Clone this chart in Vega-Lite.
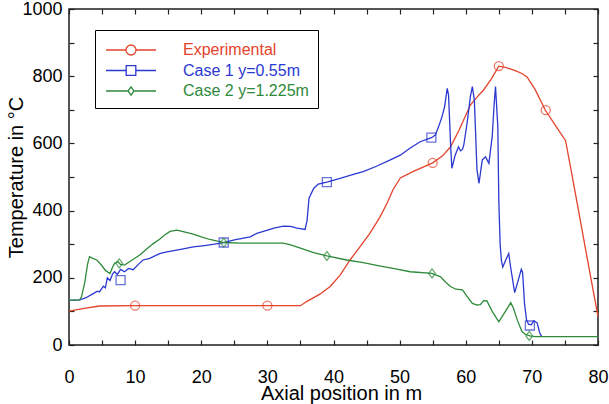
{
  "$schema": "https://vega.github.io/schema/vega-lite/v6.json",
  "width": 529,
  "height": 336,
  "autosize": {"type": "none"},
  "padding": {"left": 69, "top": 9, "right": 11, "bottom": 59},
  "background": "white",
  "datasets": {
    "curves": [
      {"series": "Experimental", "pos": 0, "temp": 101},
      {"series": "Experimental", "pos": 2.3, "temp": 109},
      {"series": "Experimental", "pos": 4.6, "temp": 116},
      {"series": "Experimental", "pos": 10, "temp": 117},
      {"series": "Experimental", "pos": 20, "temp": 117},
      {"series": "Experimental", "pos": 30, "temp": 117},
      {"series": "Experimental", "pos": 35, "temp": 117},
      {"series": "Experimental", "pos": 36, "temp": 130},
      {"series": "Experimental", "pos": 38, "temp": 152},
      {"series": "Experimental", "pos": 39.5, "temp": 174},
      {"series": "Experimental", "pos": 41, "temp": 208},
      {"series": "Experimental", "pos": 42.5, "temp": 253},
      {"series": "Experimental", "pos": 44, "temp": 292},
      {"series": "Experimental", "pos": 45.5, "temp": 332},
      {"series": "Experimental", "pos": 47, "temp": 380},
      {"series": "Experimental", "pos": 48.1, "temp": 422},
      {"series": "Experimental", "pos": 49, "temp": 462},
      {"series": "Experimental", "pos": 50.1, "temp": 497},
      {"series": "Experimental", "pos": 52, "temp": 516},
      {"series": "Experimental", "pos": 55, "temp": 542},
      {"series": "Experimental", "pos": 56.5, "temp": 563},
      {"series": "Experimental", "pos": 57.7, "temp": 590},
      {"series": "Experimental", "pos": 59, "temp": 640},
      {"series": "Experimental", "pos": 60.7, "temp": 714},
      {"series": "Experimental", "pos": 61.8, "temp": 740},
      {"series": "Experimental", "pos": 62.7, "temp": 759},
      {"series": "Experimental", "pos": 63.8, "temp": 790},
      {"series": "Experimental", "pos": 65, "temp": 830},
      {"series": "Experimental", "pos": 66, "temp": 826},
      {"series": "Experimental", "pos": 67.3, "temp": 818},
      {"series": "Experimental", "pos": 68.5, "temp": 808},
      {"series": "Experimental", "pos": 69.3, "temp": 797},
      {"series": "Experimental", "pos": 70.5, "temp": 760},
      {"series": "Experimental", "pos": 72, "temp": 700},
      {"series": "Experimental", "pos": 73.5, "temp": 655},
      {"series": "Experimental", "pos": 75.1, "temp": 608},
      {"series": "Experimental", "pos": 76, "temp": 513},
      {"series": "Experimental", "pos": 77, "temp": 406},
      {"series": "Experimental", "pos": 78, "temp": 298},
      {"series": "Experimental", "pos": 79, "temp": 191},
      {"series": "Experimental", "pos": 80, "temp": 85},

      {"series": "Case 1 y=0.55m", "pos": 0, "temp": 133},
      {"series": "Case 1 y=0.55m", "pos": 1.6, "temp": 134},
      {"series": "Case 1 y=0.55m", "pos": 2.5, "temp": 140},
      {"series": "Case 1 y=0.55m", "pos": 3.6, "temp": 152},
      {"series": "Case 1 y=0.55m", "pos": 4.3, "temp": 160},
      {"series": "Case 1 y=0.55m", "pos": 4.6, "temp": 158},
      {"series": "Case 1 y=0.55m", "pos": 5.2, "temp": 175},
      {"series": "Case 1 y=0.55m", "pos": 5.5, "temp": 170},
      {"series": "Case 1 y=0.55m", "pos": 5.8, "temp": 200},
      {"series": "Case 1 y=0.55m", "pos": 6.2, "temp": 192},
      {"series": "Case 1 y=0.55m", "pos": 6.6, "temp": 212},
      {"series": "Case 1 y=0.55m", "pos": 6.9, "temp": 218},
      {"series": "Case 1 y=0.55m", "pos": 7.3, "temp": 210},
      {"series": "Case 1 y=0.55m", "pos": 7.8, "temp": 225},
      {"series": "Case 1 y=0.55m", "pos": 8.4, "temp": 218},
      {"series": "Case 1 y=0.55m", "pos": 9, "temp": 228},
      {"series": "Case 1 y=0.55m", "pos": 9.7, "temp": 224},
      {"series": "Case 1 y=0.55m", "pos": 10.5, "temp": 240},
      {"series": "Case 1 y=0.55m", "pos": 11.2, "temp": 253},
      {"series": "Case 1 y=0.55m", "pos": 12.2, "temp": 258},
      {"series": "Case 1 y=0.55m", "pos": 13.7, "temp": 272},
      {"series": "Case 1 y=0.55m", "pos": 14.8, "temp": 277},
      {"series": "Case 1 y=0.55m", "pos": 16.5, "temp": 283},
      {"series": "Case 1 y=0.55m", "pos": 18.8, "temp": 292},
      {"series": "Case 1 y=0.55m", "pos": 20.5, "temp": 296},
      {"series": "Case 1 y=0.55m", "pos": 22, "temp": 300},
      {"series": "Case 1 y=0.55m", "pos": 23.4, "temp": 305},
      {"series": "Case 1 y=0.55m", "pos": 25, "temp": 313},
      {"series": "Case 1 y=0.55m", "pos": 27.4, "temp": 322},
      {"series": "Case 1 y=0.55m", "pos": 28.4, "temp": 332},
      {"series": "Case 1 y=0.55m", "pos": 29.9, "temp": 341},
      {"series": "Case 1 y=0.55m", "pos": 31, "temp": 348},
      {"series": "Case 1 y=0.55m", "pos": 32.4, "temp": 354},
      {"series": "Case 1 y=0.55m", "pos": 33.5, "temp": 353},
      {"series": "Case 1 y=0.55m", "pos": 34.5, "temp": 348},
      {"series": "Case 1 y=0.55m", "pos": 35.7, "temp": 344},
      {"series": "Case 1 y=0.55m", "pos": 36, "temp": 370},
      {"series": "Case 1 y=0.55m", "pos": 36.3, "temp": 437},
      {"series": "Case 1 y=0.55m", "pos": 37, "temp": 466},
      {"series": "Case 1 y=0.55m", "pos": 37.7, "temp": 479},
      {"series": "Case 1 y=0.55m", "pos": 39, "temp": 485},
      {"series": "Case 1 y=0.55m", "pos": 41, "temp": 496},
      {"series": "Case 1 y=0.55m", "pos": 43, "temp": 508},
      {"series": "Case 1 y=0.55m", "pos": 44.5, "temp": 516},
      {"series": "Case 1 y=0.55m", "pos": 46.5, "temp": 532},
      {"series": "Case 1 y=0.55m", "pos": 48.6, "temp": 551},
      {"series": "Case 1 y=0.55m", "pos": 50.1, "temp": 565},
      {"series": "Case 1 y=0.55m", "pos": 51.5, "temp": 585},
      {"series": "Case 1 y=0.55m", "pos": 53.1, "temp": 605},
      {"series": "Case 1 y=0.55m", "pos": 54.1, "temp": 612},
      {"series": "Case 1 y=0.55m", "pos": 54.8, "temp": 617},
      {"series": "Case 1 y=0.55m", "pos": 55.4, "temp": 625},
      {"series": "Case 1 y=0.55m", "pos": 55.9, "temp": 650},
      {"series": "Case 1 y=0.55m", "pos": 56.4, "temp": 679},
      {"series": "Case 1 y=0.55m", "pos": 56.8, "temp": 709},
      {"series": "Case 1 y=0.55m", "pos": 57.2, "temp": 764},
      {"series": "Case 1 y=0.55m", "pos": 57.4, "temp": 744},
      {"series": "Case 1 y=0.55m", "pos": 57.7, "temp": 600},
      {"series": "Case 1 y=0.55m", "pos": 57.9, "temp": 526},
      {"series": "Case 1 y=0.55m", "pos": 58.4, "temp": 565},
      {"series": "Case 1 y=0.55m", "pos": 58.9, "temp": 590},
      {"series": "Case 1 y=0.55m", "pos": 59.2, "temp": 578},
      {"series": "Case 1 y=0.55m", "pos": 59.5, "temp": 582},
      {"series": "Case 1 y=0.55m", "pos": 59.7, "temp": 595},
      {"series": "Case 1 y=0.55m", "pos": 60.2, "temp": 660},
      {"series": "Case 1 y=0.55m", "pos": 60.7, "temp": 739},
      {"series": "Case 1 y=0.55m", "pos": 61, "temp": 769},
      {"series": "Case 1 y=0.55m", "pos": 61.3, "temp": 729},
      {"series": "Case 1 y=0.55m", "pos": 61.7, "temp": 521},
      {"series": "Case 1 y=0.55m", "pos": 62, "temp": 481},
      {"series": "Case 1 y=0.55m", "pos": 62.5, "temp": 551},
      {"series": "Case 1 y=0.55m", "pos": 63, "temp": 560},
      {"series": "Case 1 y=0.55m", "pos": 63.5, "temp": 541},
      {"series": "Case 1 y=0.55m", "pos": 64, "temp": 620},
      {"series": "Case 1 y=0.55m", "pos": 64.3, "temp": 719},
      {"series": "Case 1 y=0.55m", "pos": 64.5, "temp": 769},
      {"series": "Case 1 y=0.55m", "pos": 64.85, "temp": 650},
      {"series": "Case 1 y=0.55m", "pos": 65, "temp": 430},
      {"series": "Case 1 y=0.55m", "pos": 65.2, "temp": 300},
      {"series": "Case 1 y=0.55m", "pos": 65.4, "temp": 250},
      {"series": "Case 1 y=0.55m", "pos": 65.6, "temp": 232},
      {"series": "Case 1 y=0.55m", "pos": 66.1, "temp": 255},
      {"series": "Case 1 y=0.55m", "pos": 66.5, "temp": 272},
      {"series": "Case 1 y=0.55m", "pos": 66.8, "temp": 230},
      {"series": "Case 1 y=0.55m", "pos": 67.4, "temp": 156},
      {"series": "Case 1 y=0.55m", "pos": 67.9, "temp": 190},
      {"series": "Case 1 y=0.55m", "pos": 68.4, "temp": 225},
      {"series": "Case 1 y=0.55m", "pos": 68.6, "temp": 215},
      {"series": "Case 1 y=0.55m", "pos": 68.9, "temp": 120},
      {"series": "Case 1 y=0.55m", "pos": 69.2, "temp": 74},
      {"series": "Case 1 y=0.55m", "pos": 69.5, "temp": 62},
      {"series": "Case 1 y=0.55m", "pos": 69.9, "temp": 60},
      {"series": "Case 1 y=0.55m", "pos": 70.3, "temp": 72},
      {"series": "Case 1 y=0.55m", "pos": 70.8, "temp": 66},
      {"series": "Case 1 y=0.55m", "pos": 71.2, "temp": 35},
      {"series": "Case 1 y=0.55m", "pos": 71.5, "temp": 25},

      {"series": "Case 2 y=1.225m", "pos": 0, "temp": 133},
      {"series": "Case 2 y=1.225m", "pos": 1.6, "temp": 134},
      {"series": "Case 2 y=1.225m", "pos": 1.9, "temp": 144},
      {"series": "Case 2 y=1.225m", "pos": 2.4, "temp": 188},
      {"series": "Case 2 y=1.225m", "pos": 2.8, "temp": 240},
      {"series": "Case 2 y=1.225m", "pos": 3.1, "temp": 263},
      {"series": "Case 2 y=1.225m", "pos": 3.6, "temp": 258},
      {"series": "Case 2 y=1.225m", "pos": 4.2, "temp": 253},
      {"series": "Case 2 y=1.225m", "pos": 4.9, "temp": 238},
      {"series": "Case 2 y=1.225m", "pos": 5.5, "temp": 222},
      {"series": "Case 2 y=1.225m", "pos": 6.2, "temp": 213},
      {"series": "Case 2 y=1.225m", "pos": 6.6, "temp": 232},
      {"series": "Case 2 y=1.225m", "pos": 6.9, "temp": 243},
      {"series": "Case 2 y=1.225m", "pos": 7.4, "temp": 248},
      {"series": "Case 2 y=1.225m", "pos": 7.8, "temp": 240},
      {"series": "Case 2 y=1.225m", "pos": 8.4, "temp": 238},
      {"series": "Case 2 y=1.225m", "pos": 9.5, "temp": 252},
      {"series": "Case 2 y=1.225m", "pos": 10.7, "temp": 268},
      {"series": "Case 2 y=1.225m", "pos": 11.7, "temp": 285},
      {"series": "Case 2 y=1.225m", "pos": 12.7, "temp": 301},
      {"series": "Case 2 y=1.225m", "pos": 13.7, "temp": 315},
      {"series": "Case 2 y=1.225m", "pos": 14.5, "temp": 328},
      {"series": "Case 2 y=1.225m", "pos": 15.3, "temp": 338},
      {"series": "Case 2 y=1.225m", "pos": 16.3, "temp": 342},
      {"series": "Case 2 y=1.225m", "pos": 16.8, "temp": 340},
      {"series": "Case 2 y=1.225m", "pos": 18.8, "temp": 330},
      {"series": "Case 2 y=1.225m", "pos": 20, "temp": 322},
      {"series": "Case 2 y=1.225m", "pos": 21.3, "temp": 314},
      {"series": "Case 2 y=1.225m", "pos": 23.4, "temp": 305},
      {"series": "Case 2 y=1.225m", "pos": 25.9, "temp": 303},
      {"series": "Case 2 y=1.225m", "pos": 32.4, "temp": 303},
      {"series": "Case 2 y=1.225m", "pos": 33.5, "temp": 298},
      {"series": "Case 2 y=1.225m", "pos": 35, "temp": 288},
      {"series": "Case 2 y=1.225m", "pos": 37, "temp": 275},
      {"series": "Case 2 y=1.225m", "pos": 39, "temp": 265},
      {"series": "Case 2 y=1.225m", "pos": 42, "temp": 253},
      {"series": "Case 2 y=1.225m", "pos": 44.5, "temp": 245},
      {"series": "Case 2 y=1.225m", "pos": 47.1, "temp": 235},
      {"series": "Case 2 y=1.225m", "pos": 49, "temp": 228},
      {"series": "Case 2 y=1.225m", "pos": 51.6, "temp": 218},
      {"series": "Case 2 y=1.225m", "pos": 54.9, "temp": 213},
      {"series": "Case 2 y=1.225m", "pos": 56.2, "temp": 203},
      {"series": "Case 2 y=1.225m", "pos": 57, "temp": 186},
      {"series": "Case 2 y=1.225m", "pos": 57.7, "temp": 174},
      {"series": "Case 2 y=1.225m", "pos": 58.5, "temp": 166},
      {"series": "Case 2 y=1.225m", "pos": 59.5, "temp": 164},
      {"series": "Case 2 y=1.225m", "pos": 60.2, "temp": 145},
      {"series": "Case 2 y=1.225m", "pos": 61, "temp": 124},
      {"series": "Case 2 y=1.225m", "pos": 61.7, "temp": 119},
      {"series": "Case 2 y=1.225m", "pos": 62.2, "temp": 120},
      {"series": "Case 2 y=1.225m", "pos": 62.7, "temp": 132},
      {"series": "Case 2 y=1.225m", "pos": 63.2, "temp": 131},
      {"series": "Case 2 y=1.225m", "pos": 64, "temp": 100},
      {"series": "Case 2 y=1.225m", "pos": 65, "temp": 69},
      {"series": "Case 2 y=1.225m", "pos": 66, "temp": 100},
      {"series": "Case 2 y=1.225m", "pos": 66.8, "temp": 126},
      {"series": "Case 2 y=1.225m", "pos": 67.2, "temp": 110},
      {"series": "Case 2 y=1.225m", "pos": 67.8, "temp": 74},
      {"series": "Case 2 y=1.225m", "pos": 68.5, "temp": 40},
      {"series": "Case 2 y=1.225m", "pos": 69, "temp": 32},
      {"series": "Case 2 y=1.225m", "pos": 69.7, "temp": 27},
      {"series": "Case 2 y=1.225m", "pos": 70.5, "temp": 25},
      {"series": "Case 2 y=1.225m", "pos": 80, "temp": 25}
    ],
    "markers": [
      {"curve": "Experimental", "pos": 10, "temp": 117},
      {"curve": "Experimental", "pos": 30, "temp": 117},
      {"curve": "Experimental", "pos": 55, "temp": 542},
      {"curve": "Experimental", "pos": 65, "temp": 830},
      {"curve": "Experimental", "pos": 72.1, "temp": 699},
      {"curve": "Case 1 y=0.55m", "pos": 7.8, "temp": 193},
      {"curve": "Case 1 y=0.55m", "pos": 23.4, "temp": 305},
      {"curve": "Case 1 y=0.55m", "pos": 39, "temp": 485},
      {"curve": "Case 1 y=0.55m", "pos": 54.8, "temp": 617},
      {"curve": "Case 1 y=0.55m", "pos": 69.7, "temp": 58},
      {"curve": "Case 2 y=1.225m", "pos": 7.6, "temp": 243},
      {"curve": "Case 2 y=1.225m", "pos": 23.4, "temp": 305},
      {"curve": "Case 2 y=1.225m", "pos": 39, "temp": 265},
      {"curve": "Case 2 y=1.225m", "pos": 54.9, "temp": 213},
      {"curve": "Case 2 y=1.225m", "pos": 69.6, "temp": 27}
    ]
  },
  "layer": [
    {
      "mark": {"type": "rect", "color": "black"},
      "encoding": {
        "x": {"datum": 4.69, "type": "quantitative", "scale": {"domain": [0, 80], "nice": false}, "axis": null},
        "x2": {"datum": 36},
        "y": {"datum": 922, "type": "quantitative", "scale": {"domain": [0, 1000], "nice": false}, "axis": null},
        "y2": {"datum": 691}
      }
    },
    {
      "data": {"name": "curves"},
      "mark": {"type": "line", "strokeWidth": 1.3},
      "encoding": {
        "x": {
          "field": "pos", "type": "quantitative",
          "scale": {"domain": [0, 80], "nice": false},
          "axis": {
            "orient": "bottom",
            "title": "Axial position in m",
            "titleX": 272, "titleY": 38,
            "values": [0, 5, 10, 15, 20, 25, 30, 35, 40, 45, 50, 55, 60, 65, 70, 75, 80],
            "labelExpr": "datum.value % 10 === 0 ? datum.label : ''",
            "tickSize": -5, "labelPadding": 28,
            "labelFlush": false, "labelOverlap": false, "grid": false, "domain": false
          }
        },
        "y": {
          "field": "temp", "type": "quantitative",
          "scale": {"domain": [0, 1000], "nice": false},
          "axis": {
            "orient": "left",
            "title": "Temperature in °C",
            "titleX": -43,
            "format": "d",
            "values": [0, 100, 200, 300, 400, 500, 600, 700, 800, 900, 1000],
            "labelExpr": "datum.value % 200 === 0 ? datum.label : ''",
            "tickSize": -5, "labelPadding": 12,
            "labelFlush": false, "labelOverlap": false, "grid": false, "domain": false
          }
        },
        "color": {
          "field": "series", "type": "nominal",
          "scale": {
            "domain": ["Experimental", "Case 1 y=0.55m", "Case 2 y=1.225m"],
            "range": ["#e4432c", "#2b39d1", "#2e8a3b"]
          },
          "legend": {
            "title": null,
            "orient": "none", "legendX": 26, "legendY": 21,
            "fillColor": "white", "strokeColor": "black",
            "padding": 9, "rowPadding": 1.5,
            "symbolSize": 400, "symbolOffset": 16, "symbolStrokeWidth": 1.3, "symbolFillColor": "transparent",
            "symbolType": {"expr": "datum.value === 'Experimental' ? 'M-2.5,0H-0.5M0.5,0H2.5M-0.5,0A0.5,0.5,0,1,1,0.5,0A0.5,0.5,0,1,1,-0.5,0Z' : datum.value === 'Case 1 y=0.55m' ? 'M-2.5,0H-0.48M0.48,0H2.5M-0.48,-0.48H0.48V0.48H-0.48Z' : 'M-2.5,0H-0.3M0.3,0H2.5M0,-0.42L0.3,0L0,0.42L-0.3,0Z'"},
            "labelColor": {"expr": "datum.value === 'Experimental' ? '#e4432c' : datum.value === 'Case 1 y=0.55m' ? '#2b39d1' : '#2e8a3b'"},
            "labelFont": "Liberation Sans", "labelFontSize": 16, "labelOffset": 41, "labelLimit": 300
          }
        }
      }
    },
    {
      "data": {"name": "markers"},
      "transform": [{"filter": "datum.curve === 'Experimental'"}],
      "mark": {"type": "point", "filled": false, "size": 81, "strokeWidth": 1.3, "color": "#e4432c", "shape": "M-1,0A1,1,0,1,1,1,0A1,1,0,1,1,-1,0Z"},
      "encoding": {
        "x": {
          "field": "pos", "type": "quantitative",
          "scale": {"domain": [0, 80], "nice": false},
          "axis": {
            "orient": "top", "title": null, "labels": false,
            "values": [0, 5, 10, 15, 20, 25, 30, 35, 40, 45, 50, 55, 60, 65, 70, 75, 80],
            "tickSize": -5, "grid": false, "domain": false
          }
        },
        "y": {
          "field": "temp", "type": "quantitative",
          "scale": {"domain": [0, 1000], "nice": false},
          "axis": {
            "orient": "right", "title": null, "labels": false,
            "values": [0, 100, 200, 300, 400, 500, 600, 700, 800, 900, 1000],
            "tickSize": -5, "grid": false, "domain": false
          }
        }
      }
    },
    {
      "data": {"name": "markers"},
      "transform": [{"filter": "datum.curve === 'Case 1 y=0.55m'"}],
      "mark": {"type": "point", "filled": false, "size": 81, "strokeWidth": 1.3, "color": "#2b39d1", "shape": "M-1,-1H1V1H-1Z"},
      "encoding": {
        "x": {"field": "pos", "type": "quantitative", "scale": {"domain": [0, 80], "nice": false}, "axis": null},
        "y": {"field": "temp", "type": "quantitative", "scale": {"domain": [0, 1000], "nice": false}, "axis": null}
      }
    },
    {
      "data": {"name": "markers"},
      "transform": [{"filter": "datum.curve === 'Case 2 y=1.225m'"}],
      "mark": {"type": "point", "filled": false, "size": 81, "strokeWidth": 1.3, "color": "#2e8a3b", "shape": "M0,-1L0.75,0L0,1L-0.75,0Z"},
      "encoding": {
        "x": {"field": "pos", "type": "quantitative", "scale": {"domain": [0, 80], "nice": false}, "axis": null},
        "y": {"field": "temp", "type": "quantitative", "scale": {"domain": [0, 1000], "nice": false}, "axis": null}
      }
    }
  ],
  "resolve": {"axis": {"x": "independent", "y": "independent"}},
  "config": {
    "view": {"stroke": "#1e1e1e", "strokeWidth": 1.5},
    "axis": {
      "labelFont": "Liberation Sans", "labelFontSize": 18, "labelColor": "black",
      "titleFont": "Liberation Sans", "titleFontSize": 20, "titleFontWeight": "normal", "titleColor": "black",
      "tickColor": "#222222", "tickWidth": 1.2
    }
  }
}
